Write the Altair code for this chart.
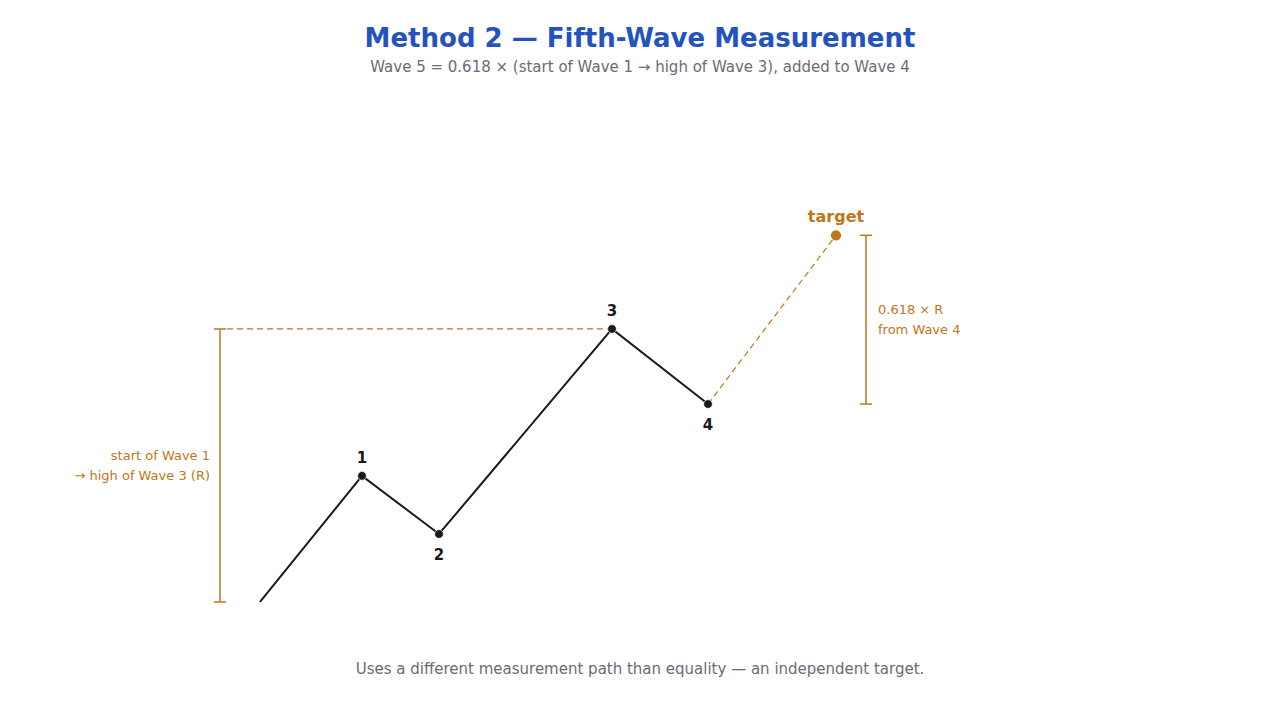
import pandas as pd
import altair as alt

# wave pivots (x in time units, y in price units; start -> high of 3 = 100)
wave_labels = ["start", "1", "2", "3", "4"]
wave_side = ["none", "peak", "trough", "peak", "trough"]
wave_x = [0, 10.2, 17.9, 35.2, 44.8]
wave_y = [0, 46.2, 24.9, 100.0, 72.5]

ratio = 0.618
target_x = 57.6
R = wave_y[3] - wave_y[0]
target_y = wave_y[4] + ratio * R

ORANGE = "#c0761a"
INK = "#1a1a1a"
GREY = "#6b6b75"
FONT = "DejaVu Sans"

waves = pd.DataFrame({"x": wave_x, "y": wave_y, "label": wave_labels, "side": wave_side})
target = pd.DataFrame({"x": [target_x], "y": [target_y], "label": ["target"]})
projection = pd.DataFrame({"x": [wave_x[4], target_x], "y": [wave_y[4], target_y]})

x_scale = alt.Scale(domain=[-25.2, 101.2], zero=False, nice=False)
y_scale = alt.Scale(domain=[-40.3, 184.6], zero=False, nice=False)

base = alt.Chart(waves)
X = alt.X("x:Q", scale=x_scale, axis=None)
Y = alt.Y("y:Q", scale=y_scale, axis=None)

wave_line = base.mark_line(color=INK, strokeWidth=2).encode(x=X, y=Y, order="x:Q")
wave_dots = base.transform_filter(alt.datum.side != "none").mark_point(
    filled=True, color=INK, size=75, opacity=1, stroke="white", strokeWidth=0.6
).encode(x=X, y=Y)
peak_labels = base.transform_filter(alt.datum.side == "peak").mark_text(
    font=FONT, fontSize=15, fontWeight="bold", color=INK, dy=-18
).encode(x=X, y=Y, text="label:N")
trough_labels = base.transform_filter(alt.datum.side == "trough").mark_text(
    font=FONT, fontSize=15, fontWeight="bold", color=INK, dy=21
).encode(x=X, y=Y, text="label:N")

proj_line = alt.Chart(projection).mark_line(
    color=ORANGE, strokeWidth=1.2, strokeDash=[6, 4]
).encode(x=X, y=Y)
target_dot = alt.Chart(target).mark_point(
    filled=True, color=ORANGE, size=105, opacity=1
).encode(x=X, y=Y)
target_label = alt.Chart(target).mark_text(
    font=FONT, fontSize=16, fontWeight="bold", color=ORANGE, dy=-18
).encode(x=X, y=Y, text="label:N")

# measurement guides
left_bx = -4.0
right_bx = 60.6
cap = 0.6
guides = pd.DataFrame({
    "x": [left_bx, left_bx - cap, left_bx - cap, right_bx, right_bx - cap, right_bx - cap, left_bx + 0.7],
    "x2": [left_bx, left_bx + cap, left_bx + cap, right_bx, right_bx + cap, right_bx + cap, wave_x[3]],
    "y": [wave_y[0], wave_y[0], wave_y[3], wave_y[4], wave_y[4], target_y, wave_y[3]],
    "y2": [wave_y[3], wave_y[0], wave_y[3], target_y, wave_y[4], target_y, wave_y[3]],
    "dash": ["solid", "solid", "solid", "solid", "solid", "solid", "dashed"],
})
solid_rules = alt.Chart(guides).transform_filter(alt.datum.dash == "solid").mark_rule(
    color=ORANGE, strokeWidth=1.5
).encode(x=X, x2="x2:Q", y=Y, y2="y2:Q")
dashed_rules = alt.Chart(guides).transform_filter(alt.datum.dash == "dashed").mark_rule(
    color=ORANGE, strokeWidth=1.2, strokeDash=[6, 4]
).encode(x=X, x2="x2:Q", y=Y, y2="y2:Q")

notes = pd.DataFrame({
    "x": [-5.0, 61.8],
    "y": [53.5, 107.0],
    "text": ["start of Wave 1\n→ high of Wave 3 (R)", "0.618 × R\nfrom Wave 4"],
    "side": ["left", "right"],
})
left_note = alt.Chart(notes).transform_filter(alt.datum.side == "left").mark_text(
    font=FONT, fontSize=13, color=ORANGE, align="right", lineBreak="\n", lineHeight=20
).encode(x=X, y=Y, text="text:N")
right_note = alt.Chart(notes).transform_filter(alt.datum.side == "right").mark_text(
    font=FONT, fontSize=13, color=ORANGE, align="left", lineBreak="\n", lineHeight=20
).encode(x=X, y=Y, text="text:N")

footer = alt.Chart(pd.DataFrame({
    "x": [38.0], "y": [-24.5],
    "text": ["Uses a different measurement path than equality — an independent target."],
})).mark_text(font=FONT, fontSize=15, color=GREY).encode(x=X, y=Y, text="text:N")

chart = alt.layer(
    dashed_rules, solid_rules, wave_line, proj_line, wave_dots, target_dot,
    peak_labels, trough_labels, target_label, left_note, right_note, footer,
).properties(
    width=1264,
    height=614,
    autosize=alt.AutoSizeParams(type="none"),
    padding={"top": 90, "left": 0, "right": 0, "bottom": 0},
    title=alt.TitleParams(
        text="Method 2 — Fifth-Wave Measurement",
        subtitle="Wave 5 = 0.618 × (start of Wave 1 → high of Wave 3), added to Wave 4",
        anchor="middle",
        font=FONT,
        fontSize=26,
        fontWeight="bold",
        color="#2453c0",
        subtitleFont=FONT,
        subtitleFontSize=15,
        subtitleColor=GREY,
        subtitlePadding=8,
        offset=23,
    ),
).configure_view(stroke=None)

chart.save("out.html", embed_options={"renderer": "svg", "actions": False})
